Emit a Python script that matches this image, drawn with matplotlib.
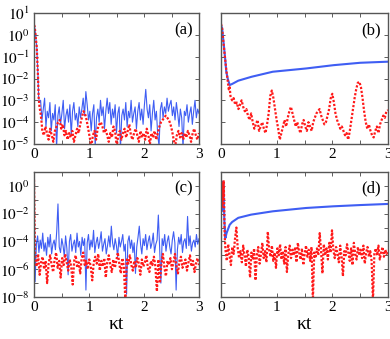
import numpy as np
import matplotlib
matplotlib.use('Agg')
import matplotlib.pyplot as plt
from matplotlib.ticker import FixedLocator, FuncFormatter, NullLocator, MultipleLocator

plt.rcParams['font.family'] = ['Liberation Serif', 'DejaVu Serif']
plt.rcParams['mathtext.fontset'] = 'stix'

BLUE = '#2a4cf2'
RED = '#ff1a1a'

# ---- panel (a) : log10 values ----
a_t_early_blue = [0, 0.01, 0.02, 0.035, 0.05, 0.06, 0.073, 0.085, 0.1]
a_blue_early = [0.45, 0.4, 0.2, -0.2, -0.55, -1.16, -1.92, -2.9, -3.1]
a_blue_noise = [
    -3.0, -3.9, -3.4, -2.9, -4.2, -3.5, -3.8, -3.1, -4.4, -3.6,
    -3.9, -3.2, -5.2, -3.7, -3.3, -4.1, -3.6, -3.0, -4.3, -3.7,
    -3.4, -4.0, -3.2, -4.6, -3.5, -3.1, -3.9, -3.6, -4.2, -3.3,
    -3.8, -3.4, -2.9, -3.7, -2.6, -3.2, -3.9, -3.5, -4.4, -3.6,
    -3.2, -5.1, -3.8, -3.4, -4.0, -3.0, -3.7, -3.3, -4.3, -3.5,
    -2.9, -3.6, -3.1, -4.1, -3.4, -3.8, -3.2, -4.5, -3.6, -3.3,
    -5.2, -3.7, -3.4, -3.9, -3.1, -4.2, -3.5, -3.8, -3.0, -4.0,
    -3.6, -3.3, -4.3, -3.5, -3.1, -3.9, -3.4, -4.1, -3.2, -2.5,
    -3.4, -3.8, -3.2, -4.4, -3.6, -3.0, -3.9, -3.5, -4.6, -5.1,
    -3.4, -3.1, -3.8, -3.3, -3.6, -2.9, -3.5, -3.2, -3.0, -3.7,
    -3.3, -3.9, -3.1, -3.6, -4.2, -3.4, -3.8, -5.2, -3.5, -3.7,
    -3.2, -4.0, -3.6, -3.3, -4.1, -3.5, -3.0, -3.8, -3.4, -3.6]
a_t_early_red = [0, 0.01, 0.02, 0.035, 0.05, 0.06, 0.073, 0.085, 0.1, 0.12, 0.14]
a_red_early = [0.45, 0.4, 0.2, -0.2, -0.55, -1.16, -1.92, -2.9, -3.3, -3.6, -4.05]
a_red_noise = [
    -4.4, -4.6, -4.2, -4.5, -4.8, -4.3, -4.6, -4.9, -4.4, -4.2,
    -4.0, -3.9, -4.3, -4.1, -4.6, -4.4, -4.8, -4.5, -4.7, -4.4,
    -4.9, -4.6, -4.3, -4.5, -4.1, -3.8, -3.5, -3.6, -3.9, -4.3,
    -4.7, -5.1, -4.6, -4.4, -4.8, -4.3, -4.1, -4.0, -4.2, -4.5,
    -4.3, -4.6, -4.9, -4.5, -4.7, -4.2, -4.4, -5.1, -4.6, -4.4,
    -4.8, -4.5, -4.3, -4.7, -4.4, -4.1, -4.6, -4.8, -4.5, -4.3,
    -4.6, -4.9, -4.4, -4.7, -4.5, -4.8, -4.3, -4.6, -5.0, -4.5,
    -4.7, -4.4, -4.8, -4.5, -4.2, -4.0, -3.9, -3.8, -3.7, -3.8,
    -3.9, -4.1, -4.4, -4.8, -5.1, -4.6, -4.4, -4.7, -4.5, -4.8,
    -4.5, -4.7, -4.4, -4.6, -4.9, -4.5, -4.3, -4.6, -4.8, -4.5]

# ---- panel (b) ----
b_t_blue = [0, 0.02, 0.04, 0.066, 0.095, 0.12, 0.156, 0.2, 0.31, 0.55,
            0.93, 1.53, 2.02, 2.5, 3.0]
b_blue = [0.45, 0.3, -0.2, -0.85, -1.69, -2.0, -2.3, -2.25, -2.1, -1.92,
          -1.69, -1.54, -1.39, -1.28, -1.23]
b_t_early_red = [0, 0.02, 0.04, 0.066, 0.095, 0.12, 0.14, 0.156]
b_red_early = [0.5, 0.3, -0.25, -0.9, -1.6, -2.1, -2.5, -2.4]
b_red_noise = [
    -2.8, -3.0, -2.9, -3.2, -3.1, -3.4, -3.2, -3.0, -3.3, -3.5,
    -3.4, -3.7, -3.9, -3.6, -4.0, -4.3, -4.1, -3.9, -4.4, -4.2,
    -4.0, -4.3, -4.5, -4.1, -3.6, -2.8, -2.55, -2.9, -3.4, -3.9,
    -4.3, -4.8, -4.5, -4.2, -3.9, -4.2, -3.8, -3.5, -3.3, -3.6,
    -3.9, -4.2, -4.0, -4.3, -4.5, -4.1, -3.9, -4.2, -4.4, -4.0,
    -4.2, -4.4, -4.0, -3.8, -3.6, -3.5, -3.4, -3.7, -3.9, -4.1,
    -4.0, -3.7, -3.4, -2.9, -2.7, -3.1, -3.6, -3.9, -4.1, -4.3,
    -4.2, -4.4, -4.6, -4.5, -4.8, -4.4, -3.9, -3.4, -2.9, -2.5,
    -2.2, -2.15, -2.4, -2.9, -3.5, -4.0, -4.3, -4.1, -4.4, -4.6,
    -4.7, -4.4, -4.2, -4.5, -4.1, -3.9, -3.7, -3.8, -3.5, -3.45]

# ---- panel (c) ----
c_blue_start = 0.45
c_blue_noise = [
    -6.9, -4.2, -3.6, -4.8, -3.9, -4.5, -3.4, -4.7, -4.1, -5.0,
    -3.7, -4.4, -3.5, -4.9, -4.2, -3.9, -4.6, -3.3, -1.3, -4.4,
    -4.8, -3.8, -4.3, -5.1, -3.6, -4.5, -6.4, -4.0, -3.5, -4.7,
    -4.2, -3.9, -4.8, -3.4, -4.4, -4.0, -5.0, -3.7, -4.3, -3.8,
    -7.5, -4.1, -3.5, -4.6, -3.9, -4.4, -3.2, -4.8, -4.1, -3.7,
    -4.5, -4.0, -3.3, -4.7, -4.2, -3.8, -4.9, -4.3, -3.6, -4.4,
    -2.9, -4.1, -4.6, -3.8, -4.3, -5.1, -3.7, -4.4, -4.0, -3.5,
    -4.7, -4.2, -7.8, -4.0, -3.6, -4.5, -3.9, -4.8, -4.1, -6.3,
    -4.4, -3.7, -2.9, -4.2, -4.9, -3.8, -4.3, -3.5, -4.6, -4.0,
    -3.6, -4.5, -4.1, -3.4, -4.8, -4.2, -3.9, -2.1, -4.4, -7.0,
    -3.8, -4.3, -3.5, -4.7, -4.0, -3.6, -4.4, -4.9, -3.9, -3.3,
    -4.1, -7.5, -4.6, -3.7, -4.2, -3.5, -4.8, -4.0, -3.8, -4.5,
    -2.2, -4.3, -3.6, -4.7, -4.1, -3.9, -4.4, -3.5, -4.2, -3.8]
c_red_start = 0.45
c_red_noise = [
    -5.3, -5.8, -4.9, -6.4, -5.5, -5.1, -6.0, -5.4, -7.0, -5.6,
    -5.0, -5.7, -6.2, -5.3, -4.8, -5.9, -5.4, -6.6, -5.2, -5.7,
    -4.9, -5.5, -6.1, -5.3, -5.8, -7.1, -5.4, -5.0, -5.9, -5.5,
    -6.3, -5.2, -4.8, -5.7, -5.4, -6.0, -5.3, -5.8, -6.8, -5.5,
    -5.1, -5.6, -4.9, -6.1, -5.4, -5.8, -5.2, -6.6, -5.5, -5.0,
    -5.7, -6.2, -5.3, -5.9, -5.4, -4.8, -5.6, -6.3, -5.2, -5.8,
    -8.2, -5.3, -5.6, -5.0, -5.7, -6.1, -5.4, -5.9, -5.2, -5.6,
    -6.4, -5.3, -5.8, -5.5, -5.0, -5.9, -6.2, -5.4, -5.7, -5.1,
    -5.8, -7.6, -5.3, -7.0, -5.6, -4.9, -5.9, -6.5, -5.4, -5.7,
    -5.2, -6.0, -5.5, -4.9, -5.8, -6.3, -5.4, -5.1, -5.9, -5.6,
    -5.3, -6.1, -5.5, -5.0, -5.8, -5.4, -6.2, -5.6, -5.2, -5.7]

# ---- panel (d) ----
d_t_blue = [0, 0.01, 0.02, 0.03, 0.04, 0.05, 0.06, 0.08, 0.1, 0.156, 0.2,
            0.31, 0.54, 0.93, 1.53, 2.02, 2.5, 3.0]
d_blue = [0.3, -1.5, 0.2, -1.8, 0.3, -1.0, -2.5, -3.75, -3.4, -2.8, -2.6,
          -2.3, -2.07, -1.83, -1.59, -1.47, -1.38, -1.3]
d_t_early_red = [0, 0.008, 0.016, 0.024, 0.032, 0.04, 0.048, 0.056, 0.065]
d_red_early = [0.4, -1.2, 0.3, -1.5, 0.2, -0.8, 0.4, -1.0, -3.5]
d_red_noise = [
    -4.6, -5.4, -4.2, -5.0, -5.7, -4.4, -4.9, -3.8, -3.0, -4.5,
    -5.2, -4.7, -5.5, -4.3, -5.0, -5.8, -4.6, -5.1, -6.6, -4.8,
    -5.3, -4.5, -6.8, -5.0, -4.4, -5.6, -4.9, -4.1, -5.2, -4.7,
    -5.5, -3.3, -4.6, -5.1, -4.3, -5.4, -4.8, -5.9, -4.5, -5.0,
    -4.2, -5.3, -4.7, -5.6, -4.4, -6.2, -4.9, -4.3, -5.2, -4.6,
    -5.0, -4.4, -5.5, -4.1, -4.8, -5.3, -4.5, -5.7, -4.9, -4.3,
    -5.1, -4.6, -5.4, -4.4, -8.3, -4.8, -5.2, -4.5, -5.0, -3.4,
    -4.7, -6.3, -4.2, -5.0, -4.5, -5.3, -4.1, -4.8, -3.2, -4.6,
    -5.2, -4.4, -4.9, -5.5, -4.3, -5.1, -6.5, -4.7, -5.0, -4.2,
    -4.8, -5.4, -4.5, -5.7, -4.1, -4.9, -5.3, -4.4, -5.0, -4.6,
    -5.2, -4.3, -5.6, -4.8, -4.4, -5.1, -4.7, -5.4, -8.3, -4.9,
    -4.5, -5.0, -4.3, -5.3, -4.8, -4.4, -5.1, -4.6, -4.9, -4.7]


def series(t_early, v_early, t0, v_noise):
    t = np.concatenate([t_early, np.linspace(t0, 3.0, len(v_noise))])
    v = np.concatenate([v_early, v_noise])
    return t, 10.0 ** v


a_tb, a_yb = series(a_t_early_blue, a_blue_early, 0.12, a_blue_noise)
a_tr, a_yr = series(a_t_early_red, a_red_early, 0.15, a_red_noise)
b_tb, b_yb = np.array(b_t_blue), 10.0 ** np.array(b_blue)
b_tr, b_yr = series(b_t_early_red, b_red_early, 0.17, b_red_noise)
c_tb, c_yb = series([0], [c_blue_start], 0.02, c_blue_noise)
c_tr, c_yr = series([0], [c_red_start], 0.02, c_red_noise)
d_tb, d_yb = np.array(d_t_blue), 10.0 ** np.array(d_blue)
d_tr, d_yr = series(d_t_early_red, d_red_early, 0.08, d_red_noise)

fig = plt.figure(figsize=(3.9, 3.39), dpi=100)
W, H = 390.0, 339.0


def box(x0, x1, ytop, ybot):
    return [x0 / W, 1 - ybot / H, (x1 - x0) / W, (ybot - ytop) / H]


ax_a = fig.add_axes(box(34, 199, 13, 144))
ax_b = fig.add_axes(box(221, 388, 13, 144))
ax_c = fig.add_axes(box(34, 199, 172, 297))
ax_d = fig.add_axes(box(221, 388, 172, 297))

panels = [
    (ax_a, a_tb, a_yb, a_tr, a_yr, 0.8, '(a)', (1e-5, 1e1), 1, True),
    (ax_b, b_tb, b_yb, b_tr, b_yr, 1.5, '(b)', (1e-5, 1e1), 1, False),
    (ax_c, c_tb, c_yb, c_tr, c_yr, 0.8, '(c)', (1e-8, 1e1), 2, True),
    (ax_d, d_tb, d_yb, d_tr, d_yr, 1.5, '(d)', (1e-8, 1e1), 2, False),
]

for ax, tb, yb, tr, yr, lwb, tag, ylim, step, show_y in panels:
    ax.plot(tb, yb, '-', color=BLUE, lw=lwb, alpha=0.9)
    ax.plot(tr, yr, color=RED, lw=1.6, linestyle=(0, (1, 0.8)))
    ax.set_yscale('log')
    ax.set_xlim(0, 3)
    ax.set_ylim(*ylim)
    lo, hi = int(np.log10(ylim[0])), int(np.log10(ylim[1]))
    ax.yaxis.set_major_locator(FixedLocator([10.0 ** k for k in range(lo, hi + 1)]))
    ax.yaxis.set_minor_locator(NullLocator())
    if show_y:
        ax.yaxis.set_major_formatter(FuncFormatter(
            lambda v, p, s=step: r'$10^{%d}$' % round(np.log10(v))
            if round(np.log10(v)) % s == 0 else ''))
    else:
        ax.yaxis.set_major_formatter(FuncFormatter(lambda v, p: ''))
    ax.xaxis.set_major_locator(MultipleLocator(1))
    ax.xaxis.set_minor_locator(MultipleLocator(0.5))
    ax.tick_params(which='both', direction='in', top=True, right=True,
                   length=3, width=0.6, labelsize=11, pad=3, colors='#444444',
                   labelcolor='black')
    for sp in ax.spines.values():
        sp.set_color('#555555')
        sp.set_linewidth(1.0)
    ax.text(0.96, 0.93, tag, transform=ax.transAxes, ha='right', va='top',
            fontsize=12)

for ax in (ax_c, ax_d):
    ax.set_xlabel('κt', fontsize=14, labelpad=1)

fig.savefig('out.png', dpi=100)
